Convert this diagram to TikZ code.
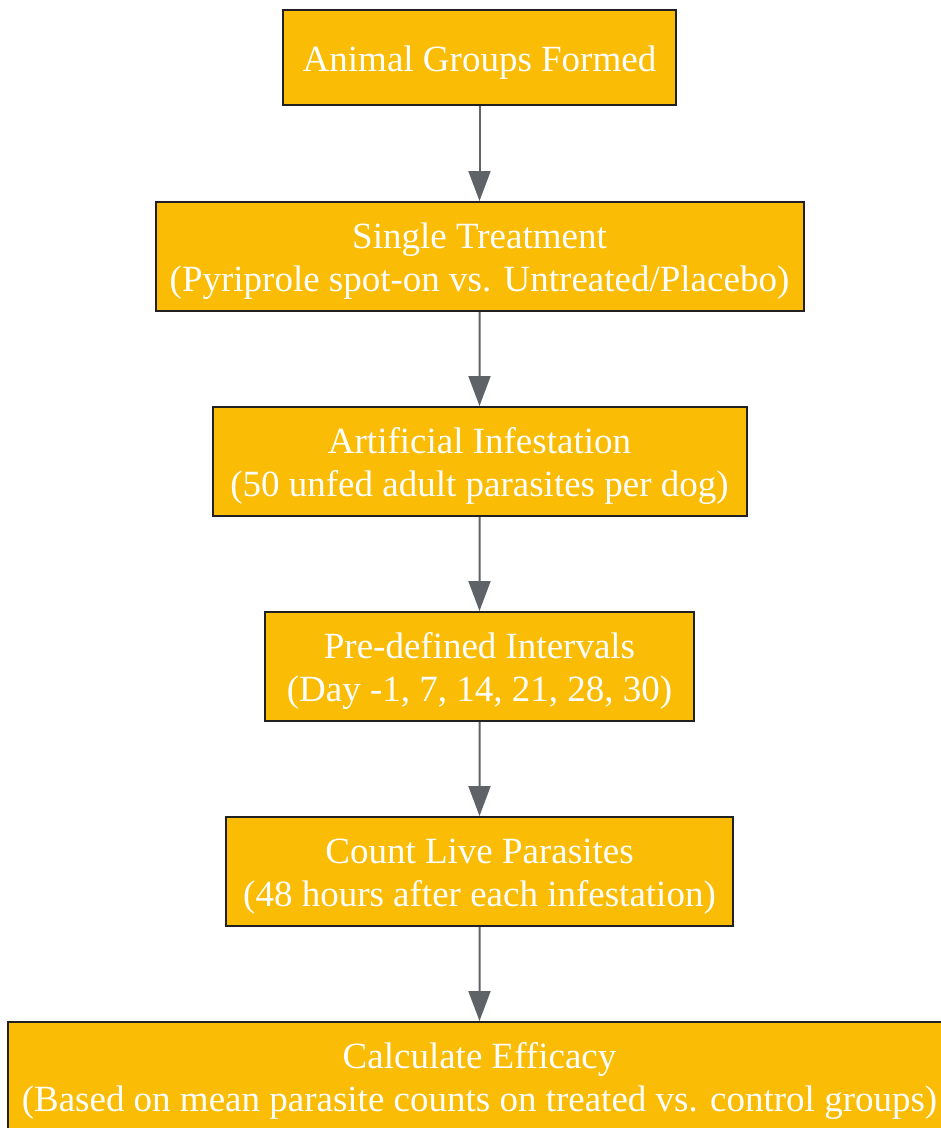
\documentclass[tikz,border=0pt]{standalone}
\usepackage{fontspec}
\setmainfont{Liberation Serif}
\usetikzlibrary{arrows.meta}
\definecolor{stepfill}{HTML}{FBBC05}
\definecolor{stepline}{HTML}{212121}
\definecolor{arrowgray}{HTML}{5F6368}
\newcommand{\steplines}[2]{\rule{0pt}{35pt}#1\\#2}
\begin{document}
\begin{tikzpicture}[
x=1pt, y=1pt,
level/.style={level distance=205pt},
level 1/.style={level distance=199pt},
every node/.style={draw=stepline, line width=2pt, fill=stepfill, text=white,
    align=center, inner sep=0pt, minimum height=109pt,
    font=\fontsize{37}{43}\selectfont},
edge from parent/.style={draw=arrowgray, line width=2pt,
    -{Triangle[length=30pt,width=22pt]}}
]
\useasboundingbox (0,0) rectangle (941,-1128);
\node (groups) at (479.5,-57.5) [minimum width=393pt, minimum height=95pt] {\rule{0pt}{35pt}Animal Groups Formed}
    child { node (treat) [minimum width=648pt] {\steplines{Single Treatment}{(Pyriprole spot-on vs. Untreated/Placebo)}}
        child { node (infest) [minimum width=534pt] {\steplines{Artificial Infestation}{(50 unfed adult parasites per dog)}}
            child { node (intervals) [minimum width=429pt] {\steplines{Pre-defined Intervals}{(Day -1, 7, 14, 21, 28, 30)}}
                child { node (count) [minimum width=507pt] {\steplines{Count Live Parasites}{(48 hours after each infestation)}}
                    child { node (efficacy) [minimum width=943pt] {\steplines{Calculate Efficacy}{(Based on mean parasite counts on treated vs. control groups)}}}
                }
            }
        }
    };
\end{tikzpicture}
\end{document}
